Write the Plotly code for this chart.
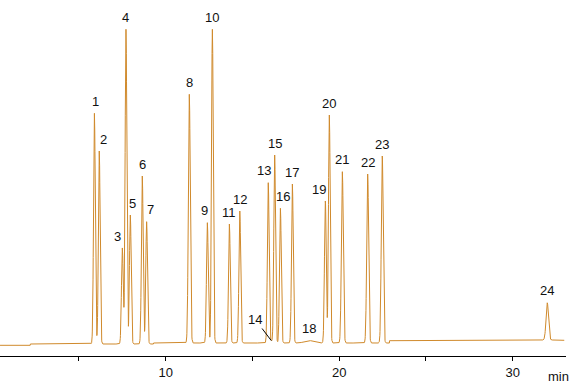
import numpy as np
import plotly.graph_objects as go

# ---- data ----
peak_labels = ["1", "2", "3", "4", "5", "6", "7", "8", "9", "10", "11", "12",
               "13", "14", "15", "16", "17", "18", "19", "20", "21", "22", "23", "24"]
retention_min = [5.89, 6.17, 7.50, 7.71, 7.96, 8.65, 8.90, 11.36, 12.40, 12.69, 13.67, 14.27,
                 15.91, 16.08, 16.28, 16.61, 17.30, 18.25, 19.20, 19.43, 20.18, 21.64, 22.48, 31.99]
peak_height = [230.7, 193.0, 96.0, 314.7, 129.0, 168.0, 122.3, 248.7, 120.3, 313.7, 119.0, 132.0,
               160.3, 2.0, 188.0, 134.7, 159.0, 2.5, 142.0, 228.0, 171.3, 169.0, 187.0, 37.2]
peak_sigma = [0.05, 0.05, 0.05, 0.05, 0.05, 0.05, 0.05, 0.055, 0.05, 0.05, 0.05, 0.05,
              0.05, 0.05, 0.05, 0.05, 0.05, 0.25, 0.05, 0.05, 0.055, 0.055, 0.055, 0.07]

baseline_start_min = [0.0, 2.2, 9.3, 22.9, 31.5, 32.3]
baseline_level = [-2.3, -1.0, 0.0, 2.3, 3.0, 2.7]

tick_values = [5, 10, 15, 20, 25, 30]
tick_text = ["", "10", "", "20", "", "30"]

# ---- build signal ----
t = np.arange(0.45, 32.98, 0.01)
idx = np.searchsorted(np.array(baseline_start_min), t, side="right") - 1
signal = np.array(baseline_level)[idx].astype(float)
for rt, h, s in zip(retention_min, peak_height, peak_sigma):
    signal = signal + h * np.exp(-0.5 * ((t - rt) / s) ** 2)

def apex_value(i):
    rt = retention_min[i]
    j = np.searchsorted(np.array(baseline_start_min), rt, side="right") - 1
    return baseline_level[j] + peak_height[i]

fig = go.Figure()
fig.add_trace(go.Scatter(x=t, y=signal, mode="lines",
                         line=dict(color="#D08A2C", width=1), hoverinfo="skip",
                         showlegend=False))

# label style offsets (pixels)
label_shift = {"1": (1, 0), "2": (4, 0), "3": (-5, 0), "5": (2, 0), "7": (4, 0),
               "9": (-3, 0), "13": (-4, 0), "16": (3, 0), "19": (-6, 0), "18": (0, 0)}
font = dict(family="Liberation Sans, Arial, sans-serif", size=13, color="#111111")

for i, lab in enumerate(peak_labels):
    if lab == "14":
        fig.add_annotation(x=retention_min[i], y=2.5, text=lab, showarrow=True,
                           arrowhead=0, arrowwidth=1, arrowcolor="#000000",
                           ax=-16, ay=-21, standoff=0, font=font)
        continue
    dx, dy = label_shift.get(lab, (0, 0))
    fig.add_annotation(x=retention_min[i], y=apex_value(i), text=lab, showarrow=False,
                       yanchor="middle", xanchor="center", yshift=12 + dy, xshift=dx,
                       font=font)

fig.add_annotation(xref="paper", yref="paper", x=0.986, y=-0.058, text="min",
                   showarrow=False, xanchor="center", yanchor="middle", font=font)

fig.update_layout(
    width=576, height=388,
    margin=dict(l=0, r=10, t=0, b=32),
    paper_bgcolor="white", plot_bgcolor="white",
    xaxis=dict(range=[0.449, 33.07], showgrid=False, zeroline=False,
               showline=True, linecolor="#000000", linewidth=1,
               ticks="outside", ticklen=4, tickcolor="#000000", tickwidth=1,
               tickvals=tick_values, ticktext=tick_text,
               tickfont=font),
    yaxis=dict(range=[-13, 343], visible=False, showgrid=False, zeroline=False),
)

fig.write_html("out.html",
               config={"displayModeBar": False, "staticPlot": True},
               post_script="document.body.style.margin='0';document.body.style.padding='0';"
                           "document.body.style.overflow='hidden';")
